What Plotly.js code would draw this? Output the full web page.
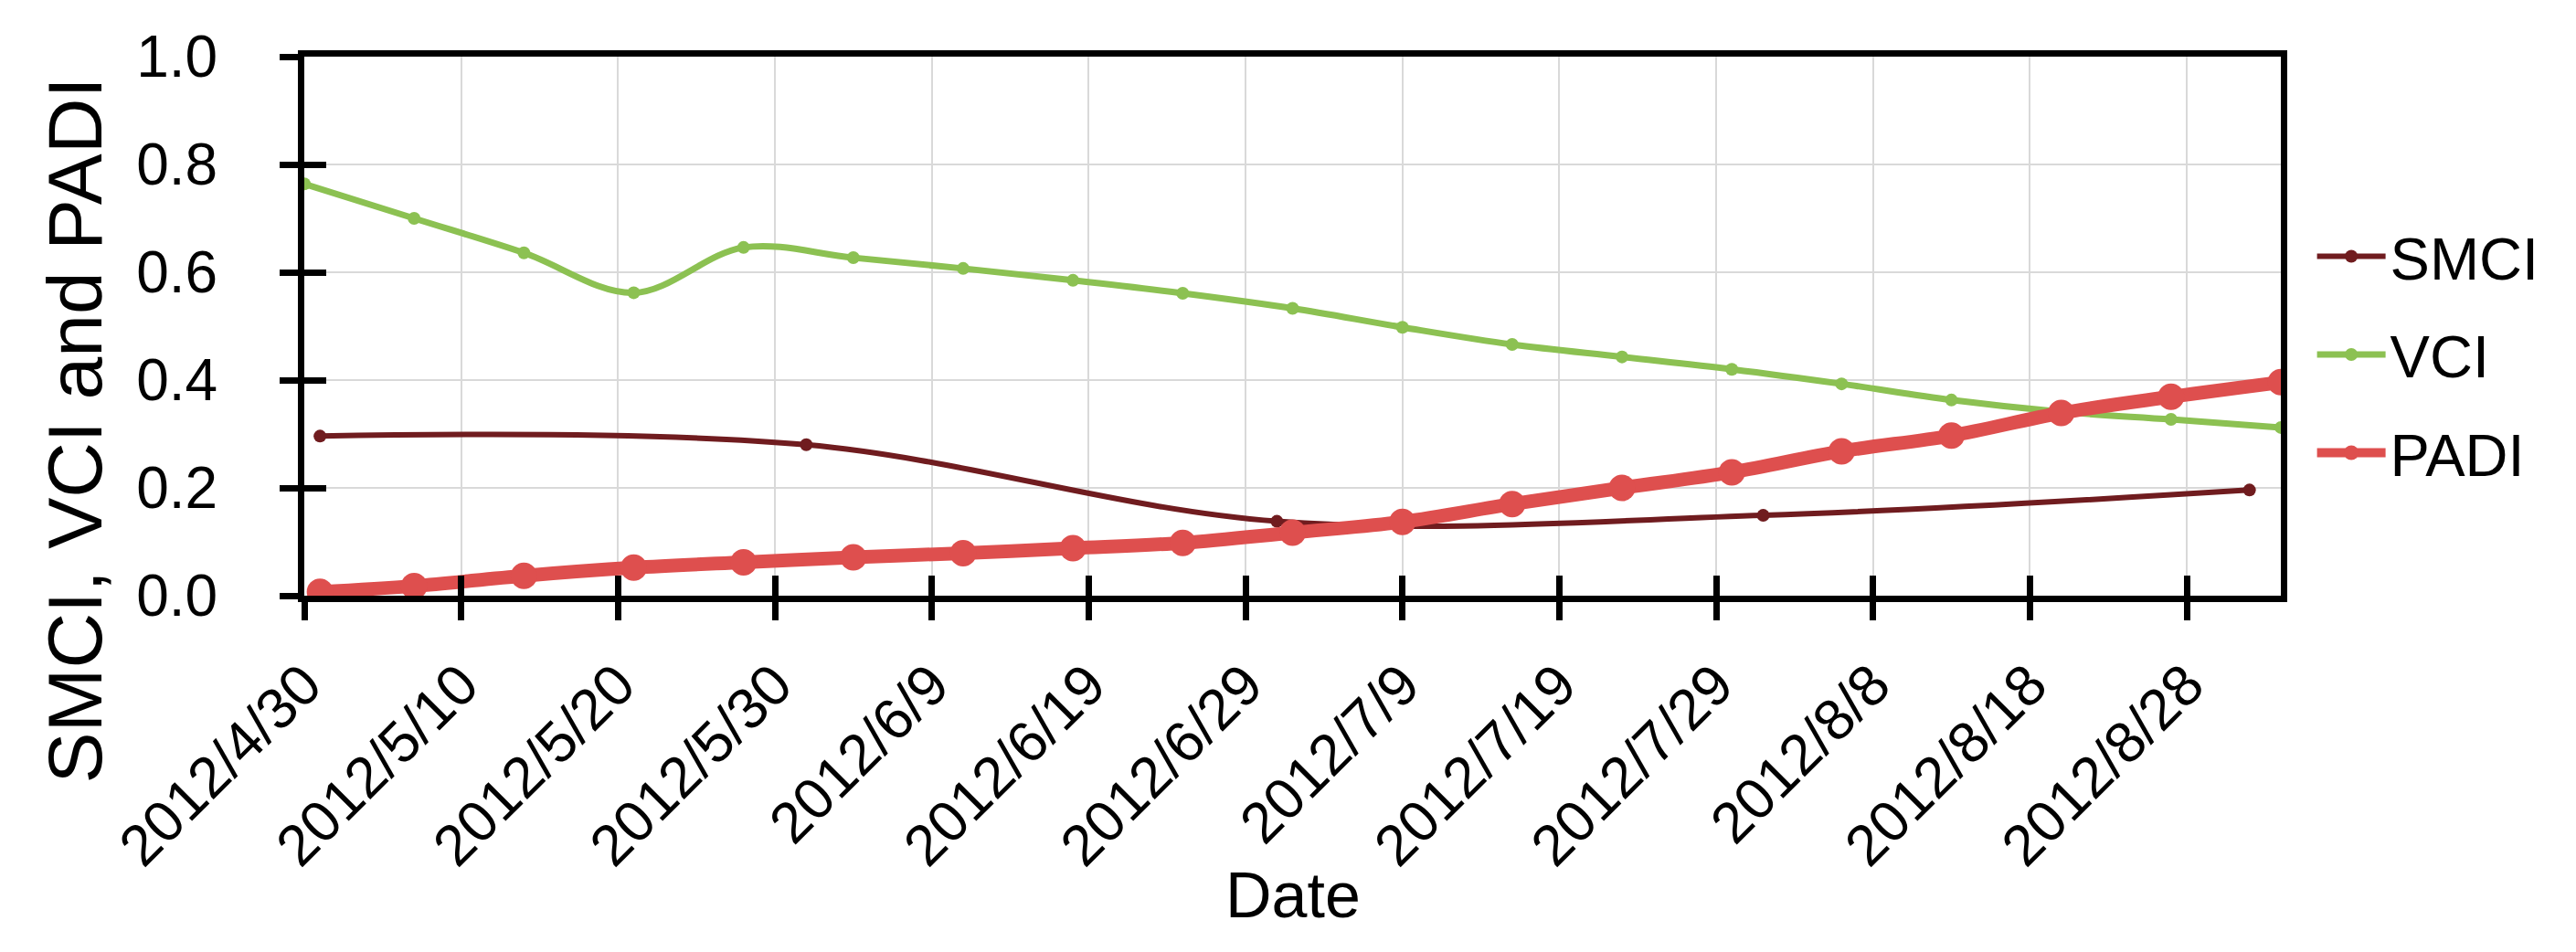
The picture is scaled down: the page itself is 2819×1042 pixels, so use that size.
<!DOCTYPE html>
<html>
<head>
<meta charset="utf-8">
<script src="https://cdn.plot.ly/plotly-3.0.1.min.js"></script>
<style>
  html, body { margin: 0; padding: 0; background: #ffffff; }
  #chart { width: 2819px; height: 1042px; }
</style>
</head>
<body>
<div id="chart"></div>
<script>
// ---- data ----
const smciDates = ["2012-05-01", "2012-06-01", "2012-07-01", "2012-08-01", "2012-09-01"];
const smciValues = [0.296, 0.280, 0.138, 0.149, 0.196];

const vciDates = ["2012-04-30", "2012-05-07", "2012-05-14", "2012-05-21", "2012-05-28",
  "2012-06-04", "2012-06-11", "2012-06-18", "2012-06-25", "2012-07-02", "2012-07-09",
  "2012-07-16", "2012-07-23", "2012-07-30", "2012-08-06", "2012-08-13", "2012-08-20",
  "2012-08-27", "2012-09-03"];
const vciValues = [0.764, 0.700, 0.636, 0.562, 0.646, 0.627, 0.607, 0.585, 0.561, 0.533,
  0.498, 0.466, 0.443, 0.420, 0.393, 0.363, 0.341, 0.327, 0.312];

const padiDates = ["2012-05-01", "2012-05-07", "2012-05-14", "2012-05-21", "2012-05-28",
  "2012-06-04", "2012-06-11", "2012-06-18", "2012-06-25", "2012-07-02", "2012-07-09",
  "2012-07-16", "2012-07-23", "2012-07-30", "2012-08-06", "2012-08-13", "2012-08-20",
  "2012-08-27", "2012-09-03"];
const padiValues = [0.007, 0.018, 0.037, 0.052, 0.062, 0.071, 0.079, 0.088, 0.098, 0.117,
  0.137, 0.170, 0.200, 0.229, 0.268, 0.297, 0.339, 0.369, 0.396];

const seriesNames = ["SMCI", "VCI", "PADI"];
const xRange = ["2012-04-30", "2012-09-03"];
const yRange = [0, 1];
const xTick0 = "2012-04-30";
const yTitle = "SMCI, VCI and PADI";
const xTitle = "Date";

// ---- styling ----
const FONT = "Liberation Sans, Arial, Helvetica, sans-serif";
const DAY = 86400000;

const traces = [
  {
    x: smciDates, y: smciValues, name: seriesNames[0], legendgroup: "a",
    type: "scatter", mode: "lines+markers",
    line: { color: "#701c1f", width: 6, shape: "spline", smoothing: 1 },
    marker: { color: "#701c1f", size: 14 }
  },
  {
    x: vciDates, y: vciValues, name: seriesNames[1], legendgroup: "b",
    type: "scatter", mode: "lines+markers",
    line: { color: "#8cc152", width: 7, shape: "spline", smoothing: 1 },
    marker: { color: "#8cc152", size: 14 }
  },
  {
    x: padiDates, y: padiValues, name: seriesNames[2], legendgroup: "c",
    type: "scatter", mode: "lines+markers",
    line: { color: "#de4f4e", width: 15, shape: "spline", smoothing: 1 },
    marker: { color: "#de4f4e", size: 29 }
  },
  // helper (draws nothing) so the overlay axes carrying the inner tick marks exist
  {
    x: vciDates, y: vciValues, xaxis: "x2", yaxis: "y2",
    type: "scatter", mode: "none", showlegend: false, hoverinfo: "skip"
  }
];

const layout = {
  width: 2819, height: 1042,
  paper_bgcolor: "#ffffff", plot_bgcolor: "#ffffff",
  margin: { l: 333, r: 323, t: 62, b: 390, pad: 0 },
  font: { family: FONT, color: "#000000", size: 63 },
  showlegend: true,
  legend: {
    x: 1.016, xanchor: "left", y: 0.447, yanchor: "middle",
    font: { family: FONT, size: 65, color: "#000000" },
    bgcolor: "rgba(0,0,0,0)", borderwidth: 0,
    itemwidth: 75, tracegroupgap: 20, traceorder: "grouped", itemsizing: "trace"
  },
  xaxis: {
    type: "date", range: xRange, tick0: xTick0, dtick: 10 * DAY,
    tickformat: "%Y/%-m/%-d", tickangle: -45,
    tickfont: { family: FONT, size: 63, color: "#000000" },
    ticks: "outside", ticklen: 20, tickwidth: 7, tickcolor: "#000000",
    ticklabelstandoff: 8,
    showline: true, linecolor: "#000000", linewidth: 7, mirror: true,
    showgrid: true, gridcolor: "#d9d9d9", gridwidth: 2,
    zeroline: false, fixedrange: true
  },
  yaxis: {
    range: yRange, dtick: 0.2, tick0: 0, tickformat: ".1f",
    tickfont: { family: FONT, size: 64, color: "#000000" },
    ticks: "outside", ticklen: 20, tickwidth: 7, tickcolor: "#000000",
    ticklabelstandoff: 55,
    showline: true, linecolor: "#000000", linewidth: 7, mirror: true,
    showgrid: true, gridcolor: "#d9d9d9", gridwidth: 2,
    zeroline: false, fixedrange: true
  },
  xaxis2: {
    type: "date", range: xRange, tick0: xTick0, dtick: 10 * DAY,
    overlaying: "x", anchor: "y2", side: "bottom",
    ticks: "inside", ticklen: 22, tickwidth: 7, tickcolor: "#000000",
    showticklabels: false, showgrid: false, showline: false, zeroline: false, fixedrange: true
  },
  yaxis2: {
    range: yRange, dtick: 0.2, tick0: 0,
    overlaying: "y", anchor: "x2", side: "left",
    ticks: "inside", ticklen: 24, tickwidth: 7, tickcolor: "#000000",
    showticklabels: false, showgrid: false, showline: false, zeroline: false, fixedrange: true
  },
  annotations: [
    {
      text: yTitle, xref: "paper", yref: "paper",
      x: (78 - 330) / 2169, y: (655 - 472) / 596,
      xanchor: "center", yanchor: "middle", textangle: -90, showarrow: false,
      font: { family: FONT, size: 84, color: "#000000" }
    },
    {
      text: xTitle, xref: "paper", yref: "paper",
      x: 0.5, y: (655 - 986) / 596,
      xanchor: "center", yanchor: "middle", showarrow: false,
      font: { family: FONT, size: 70, color: "#000000" }
    }
  ]
};

Plotly.newPlot("chart", traces, layout, { displayModeBar: false, staticPlot: true });
</script>
</body>
</html>
